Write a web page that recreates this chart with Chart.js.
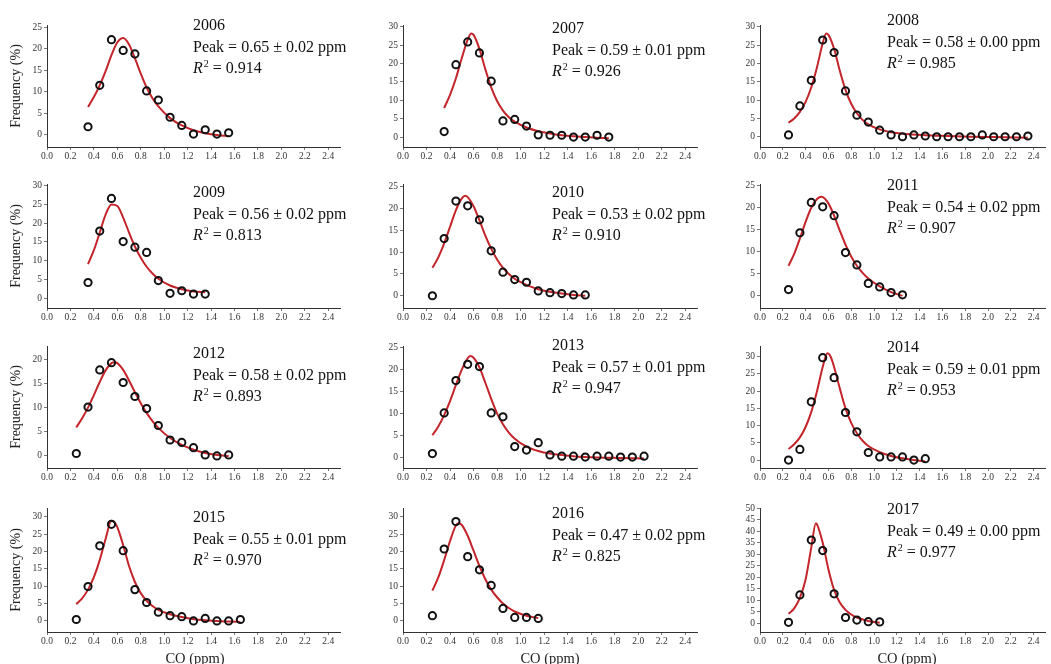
<!DOCTYPE html>
<html>
<head>
<meta charset="utf-8">
<script src="https://cdn.jsdelivr.net/npm/chart.js@4.4.0/dist/chart.umd.min.js"></script>
<style>
  html, body { margin: 0; padding: 0; background: #fff; }
  #wrap { position: relative; width: 1051px; height: 664px; overflow: hidden; font-family: "Liberation Serif", "Times New Roman", serif; }
  #wrap canvas { position: absolute; }
  .note { position: absolute; font-size: 16px; line-height: 21.5px; color: #111; white-space: nowrap; }
  .note .sup { font-size: 10px; position: relative; top: -6px; margin-left: 1px; }
  .xtitle { position: absolute; font-size: 14.5px; color: #222; transform: translate(-50%, -50%); white-space: nowrap; }
</style>
</head>
<body>
<div id="wrap"></div>
<script>
const years = ["2006", "2007", "2008", "2009", "2010", "2011", "2012", "2013", "2014", "2015", "2016", "2017"];
const peakText = ["0.65 ± 0.02", "0.59 ± 0.01", "0.58 ± 0.00", "0.56 ± 0.02", "0.53 ± 0.02", "0.54 ± 0.02",
                  "0.58 ± 0.02", "0.57 ± 0.01", "0.59 ± 0.01", "0.55 ± 0.01", "0.47 ± 0.02", "0.49 ± 0.00"];
const r2Text = ["0.914", "0.926", "0.985", "0.813", "0.910", "0.907", "0.893", "0.947", "0.953", "0.970", "0.825", "0.977"];

// highest labelled y tick per panel, and the axis limits
const yTopTick = [25, 30, 30, 30, 25, 25, 20, 25, 30, 30, 30, 50];
const yAxisMin = [-2.8, -2.7, -2.8, -2.6, -2.8, -2.8, -2.5, -2.5, -2.3, -3.2, -3.2, -3.8];
const yAxisMax = [25.5, 30.5, 30.5, 30.45, 25.6, 25.4, 22.75, 25.4, 33.1, 32.5, 32.5, 50.1];
const xTickLabels = ["0.0", "0.2", "0.4", "0.6", "0.8", "1.0", "1.2", "1.4", "1.6", "1.8", "2.0", "2.2", "2.4"];

// observed frequency (%) by CO bin
const co2006 = [0.35, 0.45, 0.55, 0.65, 0.75, 0.85, 0.95, 1.05, 1.15, 1.25, 1.35, 1.45, 1.55];
const freq2006 = [1.9, 11.5, 22.1, 19.6, 18.8, 10.2, 8.1, 4.1, 2.2, 0.2, 1.2, 0.2, 0.5];
const co2007 = [0.35, 0.45, 0.55, 0.65, 0.75, 0.85, 0.95, 1.05, 1.15, 1.25, 1.35, 1.45, 1.55, 1.65, 1.75];
const freq2007 = [1.5, 19.7, 25.9, 22.9, 15.2, 4.4, 4.8, 3.0, 0.6, 0.5, 0.5, 0.0, 0.0, 0.5, 0.0];
const co2008 = [0.25, 0.35, 0.45, 0.55, 0.65, 0.75, 0.85, 0.95, 1.05, 1.15, 1.25, 1.35, 1.45, 1.55, 1.65, 1.75,
                1.85, 1.95, 2.05, 2.15, 2.25, 2.35];
const freq2008 = [0.5, 8.4, 15.4, 26.4, 23.0, 12.5, 5.9, 4.0, 1.8, 0.5, 0.0, 0.5, 0.2, 0.0, 0.0, 0.0,
                  0.0, 0.5, 0.0, 0.0, 0.0, 0.2];
const co2009 = [0.35, 0.45, 0.55, 0.65, 0.75, 0.85, 0.95, 1.05, 1.15, 1.25, 1.35];
const freq2009 = [4.2, 17.9, 26.6, 15.1, 13.6, 12.2, 4.7, 1.3, 2.0, 1.1, 1.1];
const co2010 = [0.25, 0.35, 0.45, 0.55, 0.65, 0.75, 0.85, 0.95, 1.05, 1.15, 1.25, 1.35, 1.45, 1.55];
const freq2010 = [0.0, 13.1, 21.7, 20.6, 17.4, 10.3, 5.4, 3.7, 3.1, 1.1, 0.7, 0.5, 0.2, 0.2];
const co2011 = [0.25, 0.35, 0.45, 0.55, 0.65, 0.75, 0.85, 0.95, 1.05, 1.15, 1.25];
const freq2011 = [1.4, 14.3, 21.2, 20.2, 18.2, 9.8, 7.0, 2.8, 2.0, 0.7, 0.2];
const co2012 = [0.25, 0.35, 0.45, 0.55, 0.65, 0.75, 0.85, 0.95, 1.05, 1.15, 1.25, 1.35, 1.45, 1.55];
const freq2012 = [0.5, 10.1, 17.8, 19.3, 15.2, 12.3, 9.8, 6.3, 3.3, 2.8, 1.7, 0.2, 0.0, 0.2];
const co2013 = [0.25, 0.35, 0.45, 0.55, 0.65, 0.75, 0.85, 0.95, 1.05, 1.15, 1.25, 1.35, 1.45, 1.55, 1.65, 1.75,
                1.85, 1.95, 2.05];
const freq2013 = [0.8, 10.1, 17.5, 21.2, 20.7, 10.1, 9.2, 2.4, 1.6, 3.3, 0.5, 0.2, 0.2, 0.0, 0.2, 0.2,
                  0.0, 0.0, 0.2];
const co2014 = [0.25, 0.35, 0.45, 0.55, 0.65, 0.75, 0.85, 0.95, 1.05, 1.15, 1.25, 1.35, 1.45];
const freq2014 = [0.0, 3.1, 16.9, 29.7, 23.9, 13.8, 8.2, 2.2, 0.9, 0.9, 0.9, 0.0, 0.4];
const co2015 = [0.25, 0.35, 0.45, 0.55, 0.65, 0.75, 0.85, 0.95, 1.05, 1.15, 1.25, 1.35, 1.45, 1.55, 1.65];
const freq2015 = [0.4, 9.9, 21.6, 27.8, 20.2, 9.0, 5.3, 2.5, 1.5, 1.2, 0.0, 0.7, 0.0, 0.0, 0.4];
const co2016 = [0.25, 0.35, 0.45, 0.55, 0.65, 0.75, 0.85, 0.95, 1.05, 1.15];
const freq2016 = [1.5, 20.7, 28.6, 18.5, 14.7, 10.2, 3.6, 1.0, 1.0, 0.7];
const co2017 = [0.25, 0.35, 0.45, 0.55, 0.65, 0.75, 0.85, 0.95, 1.05];
const freq2017 = [0.4, 12.3, 36.2, 31.6, 12.8, 2.5, 1.4, 0.7, 0.6];

// fitted curves
const fitCo2006 = [0.35, 0.40, 0.45, 0.50, 0.55, 0.60, 0.65, 0.70, 0.75, 0.80, 0.85, 0.90, 0.95, 1.05, 1.15, 1.25, 1.35, 1.45, 1.55];
const fitFreq2006 = [6.5, 8.8, 11.5, 14.8, 18.5, 21.5, 22.5, 21.0, 17.8, 14.2, 11.0, 8.5, 6.6, 3.9, 2.2, 1.1, 0.4, 0.0, -0.3];
const fitCo2007 = [0.35, 0.40, 0.45, 0.50, 0.55, 0.58, 0.60, 0.65, 0.70, 0.75, 0.80, 0.85, 0.90, 0.95, 1.05, 1.15, 1.25, 1.35, 1.45, 1.55, 1.65, 1.75];
const fitFreq2007 = [7.9, 11.5, 16.0, 21.5, 26.5, 28.2, 27.8, 24.0, 18.5, 13.5, 9.8, 7.2, 5.4, 4.2, 2.6, 1.6, 1.0, 0.5, 0.2, 0.0, -0.2, -0.3];
const fitCo2008 = [0.25, 0.30, 0.35, 0.40, 0.45, 0.50, 0.55, 0.58, 0.60, 0.65, 0.70, 0.75, 0.80, 0.85, 0.90, 0.95, 1.05, 1.15, 1.25, 1.45, 1.65, 1.85, 2.05, 2.35];
const fitFreq2008 = [3.8, 5.0, 6.8, 9.5, 13.5, 19.0, 25.5, 28.2, 27.8, 24.0, 18.0, 12.8, 9.0, 6.4, 4.6, 3.4, 2.0, 1.2, 0.8, 0.4, 0.2, 0.0, -0.1, -0.3];
const fitCo2009 = [0.35, 0.40, 0.45, 0.50, 0.55, 0.60, 0.65, 0.70, 0.75, 0.80, 0.85, 0.90, 0.95, 1.05, 1.15, 1.25, 1.35];
const fitFreq2009 = [9.1, 12.8, 17.5, 22.3, 25.0, 24.6, 21.5, 17.5, 13.8, 10.8, 8.4, 6.6, 5.2, 3.4, 2.4, 1.8, 1.6];
const fitCo2010 = [0.25, 0.30, 0.35, 0.40, 0.45, 0.50, 0.53, 0.55, 0.60, 0.65, 0.70, 0.75, 0.80, 0.85, 0.90, 0.95, 1.05, 1.15, 1.25, 1.35, 1.45, 1.55];
const fitFreq2010 = [6.4, 8.8, 12.0, 15.8, 19.6, 22.3, 22.9, 22.6, 20.5, 17.3, 13.8, 10.8, 8.3, 6.4, 5.0, 3.9, 2.5, 1.5, 0.9, 0.5, 0.2, 0.0];
const fitCo2011 = [0.25, 0.30, 0.35, 0.40, 0.45, 0.50, 0.54, 0.60, 0.65, 0.70, 0.75, 0.80, 0.85, 0.90, 0.95, 1.05, 1.15, 1.25];
const fitFreq2011 = [6.8, 9.5, 13.0, 16.8, 20.0, 22.0, 22.5, 21.0, 18.2, 14.8, 11.6, 8.9, 6.8, 5.2, 3.9, 2.1, 0.8, 0.0];
const fitCo2012 = [0.25, 0.30, 0.35, 0.40, 0.45, 0.50, 0.55, 0.58, 0.60, 0.65, 0.70, 0.75, 0.80, 0.85, 0.90, 0.95, 1.05, 1.15, 1.25, 1.35, 1.45, 1.55];
const fitFreq2012 = [5.9, 7.8, 10.0, 12.6, 15.3, 17.7, 19.2, 19.4, 19.2, 17.8, 15.6, 13.2, 10.9, 8.9, 7.2, 5.8, 3.7, 2.3, 1.3, 0.6, 0.2, 0.0];
const fitCo2013 = [0.25, 0.30, 0.35, 0.40, 0.45, 0.50, 0.55, 0.57, 0.60, 0.65, 0.70, 0.75, 0.80, 0.85, 0.90, 0.95, 1.05, 1.15, 1.25, 1.45, 1.65, 1.85, 2.05];
const fitFreq2013 = [5.0, 7.0, 9.6, 12.8, 16.5, 20.0, 22.6, 23.1, 22.7, 20.5, 17.0, 13.3, 10.0, 7.5, 5.6, 4.2, 2.4, 1.4, 0.8, 0.2, -0.1, -0.2, -0.3];
const fitCo2014 = [0.25, 0.30, 0.35, 0.40, 0.45, 0.50, 0.55, 0.59, 0.62, 0.65, 0.70, 0.75, 0.80, 0.85, 0.90, 0.95, 1.05, 1.15, 1.25, 1.35, 1.45];
const fitFreq2014 = [3.2, 4.6, 6.6, 9.6, 14.0, 20.0, 27.0, 31.0, 30.0, 27.0, 20.8, 15.0, 10.8, 7.8, 5.6, 4.1, 2.3, 1.2, 0.5, 0.0, -0.4];
const fitCo2015 = [0.25, 0.30, 0.35, 0.40, 0.45, 0.50, 0.55, 0.58, 0.60, 0.65, 0.70, 0.75, 0.80, 0.85, 0.90, 0.95, 1.05, 1.15, 1.25, 1.35, 1.45, 1.55, 1.65];
const fitFreq2015 = [4.8, 6.5, 9.0, 12.6, 17.5, 23.6, 28.8, 28.2, 27.0, 21.8, 15.8, 11.2, 8.0, 5.8, 4.3, 3.2, 1.9, 1.1, 0.5, 0.2, 0.0, -0.2, -0.3];
const fitCo2016 = [0.25, 0.30, 0.35, 0.40, 0.45, 0.47, 0.50, 0.55, 0.60, 0.65, 0.70, 0.75, 0.80, 0.85, 0.90, 0.95, 1.05, 1.15];
const fitFreq2016 = [8.7, 12.5, 17.5, 23.0, 27.5, 28.1, 27.6, 24.5, 20.2, 15.8, 12.0, 9.0, 6.8, 5.0, 3.7, 2.7, 1.5, 0.8];
const fitCo2017 = [0.25, 0.30, 0.35, 0.40, 0.45, 0.49, 0.50, 0.55, 0.60, 0.65, 0.70, 0.75, 0.80, 0.85, 0.95, 1.05];
const fitFreq2017 = [4.1, 6.5, 11.0, 19.0, 33.0, 43.5, 43.0, 35.0, 23.5, 14.5, 9.0, 5.8, 3.8, 2.5, 1.0, 0.2];

const obsCo = [co2006, co2007, co2008, co2009, co2010, co2011, co2012, co2013, co2014, co2015, co2016, co2017];
const obsFreq = [freq2006, freq2007, freq2008, freq2009, freq2010, freq2011, freq2012, freq2013, freq2014, freq2015, freq2016, freq2017];
const fitCo = [fitCo2006, fitCo2007, fitCo2008, fitCo2009, fitCo2010, fitCo2011, fitCo2012, fitCo2013, fitCo2014, fitCo2015, fitCo2016, fitCo2017];
const fitFreq = [fitFreq2006, fitFreq2007, fitFreq2008, fitFreq2009, fitFreq2010, fitFreq2011, fitFreq2012, fitFreq2013, fitFreq2014, fitFreq2015, fitFreq2016, fitFreq2017];

// page layout (pixels)
const colLeft = [47, 403, 760];
const colRight = [340, 697, 1050];
const rowTop = [25, 184, 346, 508];
const rowBottom = [147, 308, 468, 632];
const noteLeft = [193, 552, 887];
const noteCenter = [25, 28, 20, 192, 192, 185, 353, 345, 347, 517, 513, 509];
const xTitleCenter = [195, 550, 907];

const RED = "#c4252b";
const FONT = "'Liberation Serif', 'Times New Roman', serif";
const wrap = document.getElementById("wrap");

function zip(xs, ys) {
  return xs.map((x, k) => ({ x: x, y: ys[k] }));
}

// y tick values 0, 5, ... up to the top tick of the panel
function yTickValues(top) {
  const out = [];
  for (let v = 0; v <= top; v += 5) out.push({ value: v });
  return out;
}

function makePanel(i) {
  const r = Math.floor(i / 3);
  const c = i % 3;
  const yAxisW = c === 0 ? 47 : 30;
  const padTop = 8;
  const xAxisH = 22;
  const padRight = c === 2 ? 1 : 6;
  const left = colLeft[c] - yAxisW;
  const top = rowTop[r] - padTop;
  const w = colRight[c] - left + padRight;
  const h = rowBottom[r] - rowTop[r] + padTop + xAxisH;

  const canvas = document.createElement("canvas");
  canvas.width = w;
  canvas.height = h;
  canvas.style.left = left + "px";
  canvas.style.top = top + "px";
  canvas.style.width = w + "px";
  canvas.style.height = h + "px";
  wrap.appendChild(canvas);

  new Chart(canvas, {
    type: "scatter",
    data: {
      datasets: [
        {
          data: zip(fitCo[i], fitFreq[i]),
          showLine: true,
          borderColor: RED,
          borderWidth: 2,
          pointRadius: 0,
          cubicInterpolationMode: "monotone",
          order: 2,
        },
        {
          data: zip(obsCo[i], obsFreq[i]),
          pointRadius: 3.6,
          pointBorderWidth: 2,
          borderColor: "#111",
          backgroundColor: "rgba(0,0,0,0)",
          order: 1,
        },
      ],
    },
    options: {
      responsive: false,
      animation: false,
      events: [],
      layout: { padding: { top: padTop, right: padRight, left: 0, bottom: 0 } },
      plugins: { legend: { display: false }, tooltip: { enabled: false } },
      scales: {
        x: {
          type: "linear",
          min: 0,
          max: 2.5,
          afterBuildTicks: (scale) => {
            scale.ticks = xTickLabels.map((s) => ({ value: parseFloat(s) }));
          },
          afterFit: (scale) => { scale.height = xAxisH; },
          ticks: {
            autoSkip: false,
            maxRotation: 0,
            padding: 1,
            color: "#333",
            font: { family: FONT, size: 9.5 },
            callback: (v, k) => xTickLabels[k],
          },
          grid: { drawOnChartArea: false, tickLength: 3, color: "#777" },
          border: { display: true, color: "#333", width: 1 },
        },
        y: {
          min: yAxisMin[i],
          max: yAxisMax[i],
          afterBuildTicks: (scale) => {
            scale.ticks = yTickValues(yTopTick[i]);
          },
          afterFit: (scale) => { scale.width = yAxisW; },
          ticks: {
            autoSkip: false,
            padding: 2,
            color: "#333",
            font: { family: FONT, size: 9.5 },
            callback: (v) => String(v),
          },
          grid: { drawOnChartArea: false, tickLength: 3, color: "#777" },
          border: { display: true, color: "#333", width: 1 },
          title: {
            display: c === 0,
            text: "Frequency (%)",
            color: "#222",
            font: { family: FONT, size: 14 },
            padding: { top: 8, bottom: 0 },
          },
        },
      },
    },
  });

  const note = document.createElement("div");
  note.className = "note";
  note.style.left = noteLeft[c] + "px";
  note.style.top = (noteCenter[i] - 10.75) + "px";
  note.innerHTML = years[i] + "<br>Peak = " + peakText[i] + " ppm<br><i>R</i><span class=\"sup\">2</span> = " + r2Text[i];
  wrap.appendChild(note);
}

years.forEach((y, i) => makePanel(i));

xTitleCenter.forEach((x) => {
  const t = document.createElement("div");
  t.className = "xtitle";
  t.style.left = x + "px";
  t.style.top = "658px";
  t.textContent = "CO (ppm)";
  wrap.appendChild(t);
});
</script>
</body>
</html>
